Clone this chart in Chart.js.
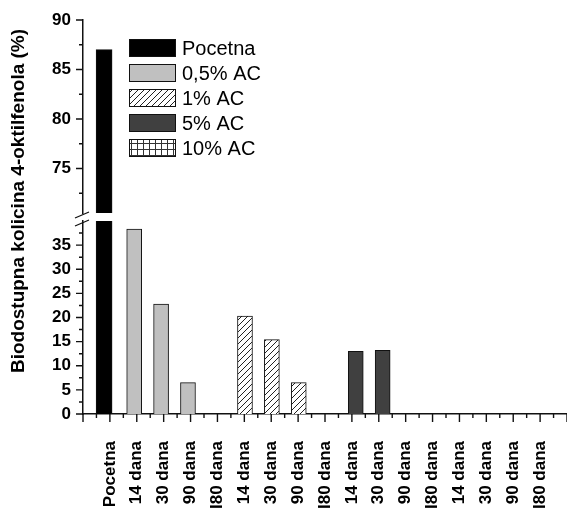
<!DOCTYPE html>
<html>
<head>
<meta charset="utf-8">
<script src="https://cdn.jsdelivr.net/npm/chart.js@4.4.1/dist/chart.umd.min.js"></script>
<style>
  html, body { margin: 0; padding: 0; background: #fff; }
  #wrap { position: relative; width: 567px; height: 511px; }
  #wrap canvas { position: absolute; left: 0; top: 0; }
  #high { pointer-events: none; }
</style>
</head>
<body>
<div id="wrap">
  <canvas id="low" width="567" height="511"></canvas>
  <canvas id="high" width="567" height="220"></canvas>
</div>
<script>
// Series names (legend order)
const seriesNames = ['Pocetna', '0,5% AC', '1% AC', '5% AC', '10% AC'];

// Category labels along the x axis, slots 1..17
const xTickLabels = [
  'Pocetna',
  '14 dana', '30 dana', '90 dana', 'I80 dana',
  '14 dana', '30 dana', '90 dana', 'I80 dana',
  '14 dana', '30 dana', '90 dana', 'I80 dana',
  '14 dana', '30 dana', '90 dana', 'I80 dana'
];

// First category slot occupied by each series
const seriesStart = [1, 2, 6, 10, 14];

// Bioavailable 4-octylphenol (%)
const pocetna = [87.0];
const ac05 = [38.3, 22.8, 6.5, 0];
const ac1 = [20.3, 15.4, 6.5, 0];
const ac5 = [13.0, 13.2, 0, 0];
const ac10 = [0, 0, 0, 0];
const seriesValues = [pocetna, ac05, ac1, ac5, ac10];

// Labelled y ticks for the two parts of the broken axis
const upperTicks = [75, 80, 85, 90];
const lowerTicks = [0, 5, 10, 15, 20, 25, 30, 35];

Chart.defaults.font.family = "'Liberation Sans', Arial, Helvetica, sans-serif";
Chart.defaults.color = '#000';

function makePattern(draw) {
  const c = document.createElement('canvas');
  c.width = 6; c.height = 6;
  const g = c.getContext('2d');
  g.fillStyle = '#fff';
  g.fillRect(0, 0, 6, 6);
  draw(g);
  return g.createPattern(c, 'repeat');
}
const hatch = makePattern(g => {
  g.strokeStyle = '#222';
  g.lineWidth = 1;
  g.beginPath();
  g.moveTo(-1, 7); g.lineTo(7, -1);
  g.moveTo(-1, 1); g.lineTo(1, -1);
  g.moveTo(5, 7); g.lineTo(7, 5);
  g.stroke();
});
const gridFill = makePattern(g => {
  g.fillStyle = '#333';
  g.fillRect(0, 5, 6, 1);
  g.fillRect(5, 0, 1, 6);
});
const fills = ['#000000', '#c0c0c0', hatch, '#404040', gridFill];

function makeDatasets() {
  return seriesValues.map((vals, k) => ({
    label: seriesNames[k],
    data: vals.map((v, i) => ({ x: seriesStart[k] + i + (k - 1.8) * 0.12, y: v })),
    backgroundColor: fills[k],
    borderColor: '#111',
    borderWidth: 1,
    barThickness: k === 0 ? 16 : 15,
    grouped: false
  }));
}

// Major and minor tick marks drawn outward from the axes
const tickMarks = {
  id: 'tickMarks',
  afterDraw(chart, args, opts) {
    const ctx = chart.ctx;
    const ys = chart.scales.y, xs = chart.scales.x;
    ctx.save();
    ctx.strokeStyle = '#111';
    ctx.lineWidth = 1.4;
    ctx.beginPath();
    for (let v = opts.yFrom; v <= opts.yTo + 1e-9; v += 2.5) {
      const py = ys.getPixelForValue(v);
      const len = Math.abs(v / 5 - Math.round(v / 5)) < 1e-6 ? 7 : 4;
      ctx.moveTo(ys.right - len, py);
      ctx.lineTo(ys.right, py);
    }
    if (opts.xTicks) {
      for (let v = 0; v <= 18; v += 0.5) {
        const px = xs.getPixelForValue(v);
        const len = Number.isInteger(v) ? 8 : 4;
        ctx.moveTo(px, xs.top);
        ctx.lineTo(px, xs.top + len);
      }
    }
    ctx.stroke();
    ctx.restore();
  }
};

// Break marks on the y axis and the rotated axis title
const axisDecor = {
  id: 'axisDecor',
  afterDraw(chart) {
    const ctx = chart.ctx;
    const left = chart.chartArea.left, top = chart.chartArea.top;
    ctx.save();
    ctx.strokeStyle = '#111';
    ctx.lineWidth = 1.3;
    ctx.beginPath();
    ctx.moveTo(left - 8, top - 3); ctx.lineTo(left + 6, top - 9);
    ctx.moveTo(left - 8, top + 5); ctx.lineTo(left + 6, top - 1);
    ctx.stroke();
    ctx.translate(19, 201);
    ctx.rotate(-Math.PI / 2);
    ctx.font = "bold 19px 'Liberation Sans', Arial, sans-serif";
    ctx.fillStyle = '#000';
    ctx.textAlign = 'center';
    ctx.textBaseline = 'middle';
    ctx.fillText('Biodostupna kolicina 4-oktilfenola (%)', 0, 0);
    ctx.restore();
  }
};

// Legend box inside the upper plot
const boxLegend = {
  id: 'boxLegend',
  afterDraw(chart) {
    const ctx = chart.ctx;
    ctx.save();
    ctx.font = "20px 'Liberation Sans', Arial, sans-serif";
    ctx.textBaseline = 'middle';
    chart.data.datasets.forEach((ds, i) => {
      const x = 129.5, y = 39.5 + i * 25, w = 46, h = 17;
      ctx.fillStyle = ds.backgroundColor;
      ctx.fillRect(x, y, w, h);
      ctx.strokeStyle = '#111';
      ctx.lineWidth = 1;
      ctx.strokeRect(x, y, w, h);
      ctx.fillStyle = '#000';
      ctx.fillText(ds.label, 182, y + h / 2 + 1);
    });
    ctx.restore();
  }
};

function noOverflow(s) {
  s.paddingLeft = 0; s.paddingRight = 0;
  s.paddingTop = 0; s.paddingBottom = 0;
}

const xScaleBase = {
  type: 'linear',
  min: 0,
  max: 18,
  offset: false,
  grid: { display: false, drawTicks: false, offset: false },
  border: { display: true, color: '#111', width: 1.5 }
};

function yScale(min, max, labelled) {
  return {
    type: 'linear',
    min: min,
    max: max,
    grid: { display: false, drawTicks: false },
    border: { display: true, color: '#111', width: 1.5 },
    ticks: {
      stepSize: 5,
      padding: 12,
      font: { size: 17, weight: 'bold' },
      color: '#000',
      callback: v => labelled.includes(v) ? String(v) : ''
    },
    afterFit(s) { s.width = 83; noOverflow(s); }
  };
}

// Lower part: 0 - 40 with the category axis
new Chart(document.getElementById('low'), {
  type: 'bar',
  data: { datasets: makeDatasets() },
  options: {
    responsive: false,
    animation: false,
    layout: { padding: { top: 221, left: 0, right: 0, bottom: 0 }, autoPadding: false },
    plugins: {
      legend: { display: false },
      tooltip: { enabled: false },
      tickMarks: { yFrom: 0, yTo: 37.5, xTicks: true }
    },
    scales: {
      x: Object.assign({}, xScaleBase, {
        ticks: {
          stepSize: 1,
          autoSkip: false,
          minRotation: 90,
          maxRotation: 90,
          padding: 27,
          font: { size: 17, weight: 'bold' },
          color: '#000',
          callback: v => xTickLabels[v - 1] || ''
        },
        afterFit(s) { s.height = 97; noOverflow(s); }
      }),
      y: yScale(0, 40, lowerTicks)
    }
  },
  plugins: [tickMarks, axisDecor]
});

// Upper part: 70.5 - 90 with the legend
new Chart(document.getElementById('high'), {
  type: 'bar',
  data: { datasets: makeDatasets() },
  options: {
    responsive: false,
    animation: false,
    layout: { padding: { top: 20, left: 0, right: 0, bottom: 7 }, autoPadding: false },
    plugins: {
      legend: { display: false },
      tooltip: { enabled: false },
      tickMarks: { yFrom: 72.5, yTo: 90, xTicks: false }
    },
    scales: {
      x: Object.assign({}, xScaleBase, { display: false, afterFit: noOverflow }),
      y: yScale(70.5, 90, upperTicks)
    }
  },
  plugins: [tickMarks, boxLegend]
});
</script>
</body>
</html>
